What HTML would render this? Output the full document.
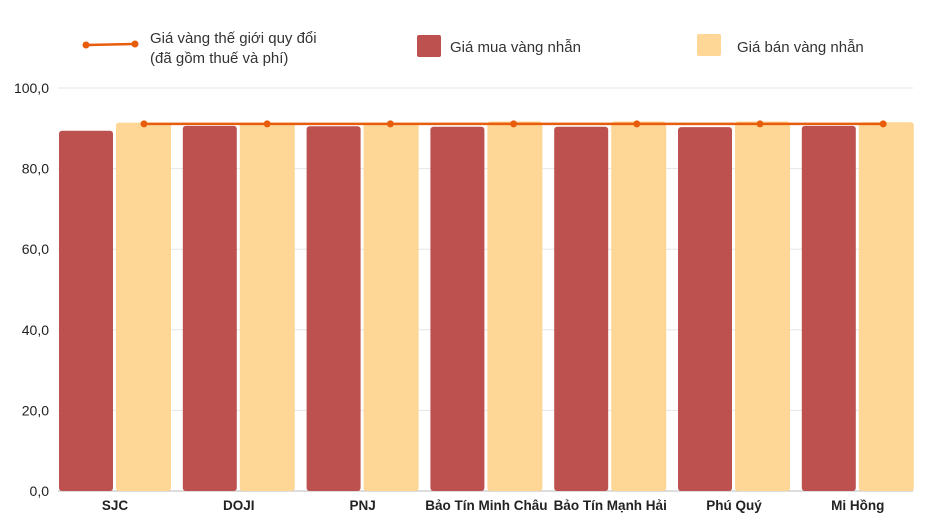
<!DOCTYPE html>
<html><head><meta charset="utf-8"><style>
body{margin:0;background:#fff;font-family:"Liberation Sans",sans-serif;overflow:hidden;}
svg{display:block;}
svg text{font-family:"Liberation Sans",sans-serif;}
</style></head><body>
<svg width="939" height="529">
<g>
 <g>
  <line x1="86" y1="45" x2="135" y2="44" stroke="#e85d0c" stroke-width="2.5"/>
  <circle cx="86" cy="45" r="3.5" fill="#e85d0c"/><circle cx="135" cy="44" r="3.5" fill="#e85d0c"/>
  <text x="150" y="43" font-size="15" fill="#333">Giá vàng thế giới quy đổi</text>
  <text x="150" y="63" font-size="15" fill="#333">(đã gồm thuế và phí)</text>
 </g>
 <g>
  <rect x="417" y="35" width="24" height="22" fill="#bd5150" rx="2"/>
  <text x="450" y="52" font-size="15" fill="#333">Giá mua vàng nhẫn</text>
 </g>
 <g>
  <rect x="697" y="34" width="24" height="22" fill="#fed696" rx="2"/>
  <text x="737" y="52" font-size="15" fill="#333">Giá bán vàng nhẫn</text>
 </g>
</g>
<g id="grid"></g>
<g id="bars"></g>
<g id="line"></g>
<g id="labels"></g>
</svg>
<script>
const categories=["SJC","DOJI","PNJ","Bảo Tín Minh Châu","Bảo Tín Mạnh Hải","Phú Quý","Mi Hồng"];
const buyValues=[89.4,90.6,90.5,90.4,90.4,90.3,90.6];
const sellValues=[91.4,91.4,91.4,91.7,91.7,91.7,91.5];
const worldValues=[91.1,91.1,91.1,91.1,91.1,91.1,91.1];
const yTicks=[0,20,40,60,80,100];
const yTickLabels=["0,0","20,0","40,0","60,0","80,0","100,0"];
const NS="http://www.w3.org/2000/svg";
const L=58,R=913,Y0=491,Y100=88;
const y=v=>Y0-(Y0-Y100)*v/100;
const gw=123.8;
const gx=i=>L+i*gw;
function mk(t,a,p){const e=document.createElementNS(NS,t);for(const k in a)e.setAttribute(k,a[k]);p.appendChild(e);return e;}
const grid=document.getElementById('grid'),bars=document.getElementById('bars'),line=document.getElementById('line'),labels=document.getElementById('labels');
yTicks.forEach((t,i)=>{
 const g=mk('line',{x1:L,x2:R,y1:y(t),y2:y(t),stroke:t===0?'#bbb':'#e6e6e6','stroke-width':1},grid);
 
 
 const tx=mk('text',{x:49,y:y(t)+5,'text-anchor':'end','font-size':14,fill:'#222'},labels);
 tx.textContent=yTickLabels[i];
 
 
});
categories.forEach((c,i)=>{
 const x0=gx(i);
 const b=mk('rect',{x:x0+1,y:y(buyValues[i]),width:54,height:Y0-y(buyValues[i]),fill:'#bd5150',rx:3},bars);
 
 
 const s=mk('rect',{x:x0+58,y:y(sellValues[i]),width:55,height:Y0-y(sellValues[i]),fill:'#fed696',rx:3},bars);
 
 
 const tx=mk('text',{x:x0+57,y:510,'text-anchor':'middle','font-size':13.5,'font-weight':'bold',fill:'#222'},labels);
 tx.textContent=c;
 
 
});
const px=i=>144+i*123.2;
let d=worldValues.map((v,i)=>(i?'L':'M')+px(i)+' '+y(v)).join(' ');
const p=mk('path',{d:d,stroke:'#e85d0c','stroke-width':2.5,fill:'none'},line);


worldValues.forEach((v,i)=>{
 const c=mk('circle',{cx:px(i),cy:y(v),r:3.5,fill:'#e85d0c'},line);
 
 
});
</script>
</body></html>
